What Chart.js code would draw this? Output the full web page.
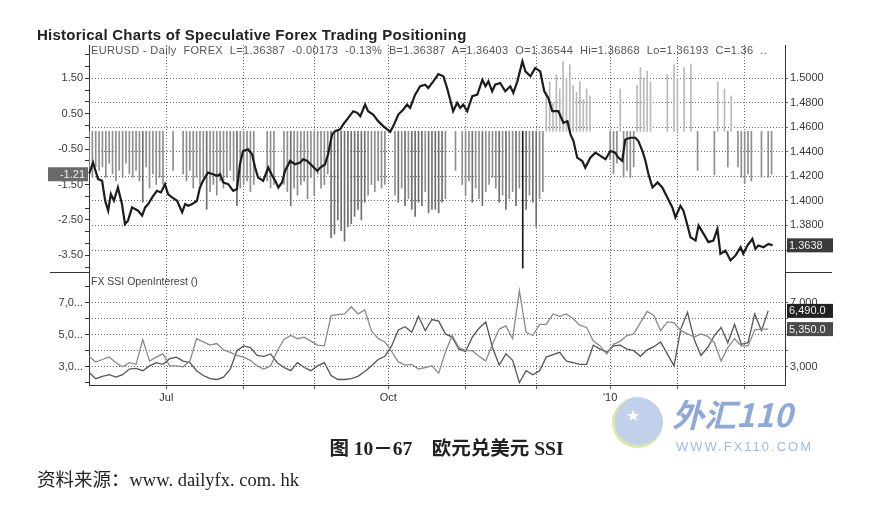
<!DOCTYPE html>
<html><head><meta charset="utf-8">
<script src="https://cdn.jsdelivr.net/npm/chart.js@4.4.1/dist/chart.umd.min.js"></script>
<style>
body{margin:0;background:#fff;width:873px;height:517px;overflow:hidden;position:relative;font-family:"Liberation Sans",Arial,sans-serif;}
canvas{position:absolute;left:0;top:0;}
.t{position:absolute;white-space:pre;line-height:1;}
.hl{position:absolute;height:1px;background:#333;}
</style></head><body>
<canvas id="c1" width="873" height="517"></canvas>
<canvas id="c2" width="873" height="517"></canvas>
<div class="t" style="left:37px;top:27px;font-weight:bold;font-size:15px;letter-spacing:0.25px;color:#222">Historical Charts of Speculative Forex Trading Positioning</div>
<div class="t" style="left:91px;top:45px;font-size:11px;letter-spacing:0.35px;color:#555">EURUSD - Daily  FOREX  L=1.36387  -0.00173  -0.13%  B=1.36387  A=1.36403  O=1.36544  Hi=1.36868  Lo=1.36193  C=1.36  ..</div>
<div class="t" style="left:91px;top:276px;font-size:10.5px;color:#444">FX SSI OpenInterest ()</div>
<div class="hl" style="left:50px;top:272px;width:39px"></div>
<div class="hl" style="left:785px;top:272px;width:47px"></div>
<div class="t" style="left:0;width:893px;text-align:center;top:439px;font-size:19.5px;font-weight:bold;color:#222;font-family:'Liberation Serif','Noto Sans CJK SC',serif">图 10－67　欧元兑美元 SSI</div>
<div class="t" style="left:37px;top:471px;font-size:18.5px;color:#222;font-family:'Liberation Serif','Noto Sans CJK SC',serif">资料来源：www. dailyfx. com. hk</div>
<div style="position:absolute;left:612px;top:397px;width:48px;height:48px;border-radius:50%;background:#b7c8e8;border-left:3px solid #d6e39a;border-bottom:3px solid #d6e39a;opacity:0.85"></div>
<div class="t" style="left:626px;top:408px;font-size:16px;color:#fff">★</div>
<div class="t" style="left:672px;top:397px;font-size:32px;font-weight:bold;font-style:italic;color:#8ea8d8;font-family:'Noto Sans CJK SC',sans-serif">外汇110</div>
<div class="t" style="left:676px;top:440px;font-size:13px;letter-spacing:2px;color:#a3b8e0">WWW.FX110.COM</div>
<script>
// ---- data ----
const monthStartDay = [23, 46, 67, 89, 112, 133, 155, 175, 195];
const monthLabels   = ['Jul', '', '', 'Oct', '', '', "'10", '', ''];

const priceDay = [0,1.2,2.7,3.9,4.8,5.7,6.5,7.4,8.6,9.8,10.7,11.6,12.8,13.7,14.6,15.8,16.7,17.6,18.8,20.2,21.4,22.6,23.5,24.7,26.2,27.7,28.6,29.5,30.7,32.1,33.0,33.9,35.4,36.9,38.1,39.0,39.9,41.4,42.9,44.0,44.9,45.8,47.3,48.5,49.4,50.3,51.8,53.3,54.5,55.4,56.3,57.4,58.3,59.8,61.3,62.8,63.7,64.9,66.4,67.9,68.8,70.2,71.1,72.3,73.2,74.7,75.6,77.1,78.6,79.8,80.7,82.1,83.0,84.5,86.0,87.5,88.7,89.6,90.5,92.0,93.5,94.6,95.5,97.0,98.5,100.0,100.9,102.4,103.9,105.4,106.5,107.4,108.3,109.5,110.4,111.3,112.5,114.0,115.5,117.0,117.9,118.8,119.9,120.8,122.3,123.8,125.3,126.2,127.4,128.9,129.8,131.3,132.7,134.2,135.4,136.6,137.8,139.6,141.1,142.3,143.2,144.1,145.2,146.7,147.6,149.1,150.6,152.1,153.6,155.1,156.5,157.4,158.6,159.5,161.0,162.5,163.4,164.6,165.5,166.4,167.6,169.1,170.5,172.0,173.5,174.4,175.9,176.8,178.0,178.9,180.4,181.3,182.8,184.2,185.7,186.9,187.8,189.3,190.8,192.3,193.8,194.6,195.8,197.3,198.2,199.1,200.6,202.1,203.3];
const priceVal = [1.4217,1.4312,1.4177,1.4163,1.4001,1.3920,1.4055,1.4001,1.4109,1.3974,1.3812,1.3839,1.3947,1.3934,1.3920,1.3880,1.3947,1.3974,1.4028,1.4082,1.4069,1.4136,1.4055,1.4028,1.4001,1.3907,1.3974,1.3960,1.3974,1.4001,1.4109,1.4163,1.4231,1.4217,1.4204,1.4217,1.4150,1.4136,1.4082,1.4096,1.4298,1.4406,1.4420,1.4379,1.4271,1.4190,1.4163,1.4271,1.4204,1.4163,1.4109,1.4150,1.4244,1.4325,1.4298,1.4312,1.4339,1.4325,1.4285,1.4244,1.4271,1.4298,1.4379,1.4541,1.4568,1.4582,1.4622,1.4676,1.4730,1.4717,1.4690,1.4784,1.4730,1.4703,1.4649,1.4609,1.4582,1.4563,1.4609,1.4703,1.4744,1.4784,1.4757,1.4865,1.4933,1.4946,1.4919,1.4973,1.5032,1.5014,1.4919,1.4825,1.4730,1.4798,1.4757,1.4784,1.4730,1.4852,1.4865,1.4987,1.4933,1.4973,1.4892,1.4946,1.4960,1.4892,1.4933,1.4879,1.4973,1.5135,1.5054,1.5014,1.5081,1.5054,1.4892,1.4838,1.4730,1.4730,1.4636,1.4649,1.4541,1.4487,1.4352,1.4325,1.4271,1.4352,1.4393,1.4366,1.4339,1.4406,1.4393,1.4352,1.4325,1.4500,1.4514,1.4514,1.4487,1.4406,1.4325,1.4217,1.4109,1.4150,1.4109,1.4028,1.3947,1.3866,1.3960,1.3920,1.3799,1.3704,1.3677,1.3799,1.3731,1.3664,1.3677,1.3772,1.3569,1.3596,1.3515,1.3556,1.3623,1.3569,1.3637,1.3690,1.3609,1.3637,1.3623,1.3650,1.3638];

// SSI ratio bars, one per trading day (null = no bar)
const ssiVals = [
-1.1,-1.3,-1.0,-1.1,-1.0,-1.3,-0.9,-1.2,-1.4,-1.1,
-1.3,-0.9,-1.2,-1.3,-1.1,-1.4,-2.0,-1.0,-1.6,-1.2,
-1.5,-1.3,-1.5,null,null,-1.1,null,null,-1.2,-1.4,
-1.1,-1.6,-1.3,-1.5,-1.3,-2.2,-1.7,-1.5,-1.8,-1.4,
-1.6,-1.3,-1.1,-1.4,-2.1,-1.6,-1.5,-1.4,-1.7,-1.5,
null,null,null,-1.4,-1.6,-1.5,null,null,-1.5,-1.7,
-2.1,-1.6,-1.8,-1.5,-1.4,-1.9,-1.3,-1.8,-1.2,-1.6,
-1.5,-1.2,-3.0,-2.9,-2.5,-2.8,-3.1,-2.7,-2.6,-2.4,
-2.2,-2.5,-2.0,-1.8,-1.5,-1.7,-1.4,-1.6,-1.5,null,
null,-1.8,-2.0,-1.6,-2.1,-1.9,-2.2,-2.4,-2.0,-2.1,
-1.7,-2.3,-2.2,-2.2,-2.3,-2.0,-1.9,null,null,-1.1,
null,-1.5,-1.8,-1.4,-2.0,-1.6,-1.9,-2.1,-1.7,-1.5,
-1.3,-1.6,-2.0,-1.8,-2.2,-1.9,-1.7,-2.1,-1.6,-3.86,
-2.2,-1.8,-2.0,-2.7,-1.9,-1.7,1.1,1.4,0.8,1.6,
1.2,1.97,1.5,1.88,1.3,1.1,1.4,0.9,1.2,1.0,
null,null,null,null,null,-0.8,-1.2,-0.9,1.2,-1.3,
-1.1,-1.3,-1.0,1.3,1.8,1.5,1.7,1.4,null,null,
null,null,1.6,null,1.88,1.5,null,1.8,null,1.9,
null,-1.1,null,null,null,null,-1.23,1.4,null,1.2,
-1.0,1.0,null,-1.0,-1.3,-1.46,-1.2,-1.4,null,null,
-1.3,null,-1.3,-1.21];

// FX SSI open interest, every second trading day
const oiDays = Array.from({length:102}, (_, i) => i * 2);
const oiLight = [3650,3300,3450,3600,3250,3000,3250,3150,4700,3350,
3600,3800,3050,3050,3000,3350,4750,4550,4350,4450,
4050,3900,3700,3600,3400,3050,2850,3050,4000,4700,
4950,4750,4850,4600,4350,4300,6200,6250,6300,6750,
6300,6550,5250,4750,4550,3950,3300,3100,3150,2850,
2950,3050,2600,3900,4950,4200,4000,4000,3650,3350,
4400,5350,5550,4750,7750,5150,4950,5650,5650,6300,
6150,6300,6000,5600,5450,4600,4300,3800,4400,4600,
4950,5050,5750,6450,6200,5250,5800,5750,5250,5050,
4850,5050,4900,4500,3350,4200,4750,4300,4300,5300,
5350,5350];
const oiDark = [2650,2250,2400,2500,2350,2500,2850,2900,2750,3050,
3250,3150,3500,3600,3350,3250,2750,2450,2250,2200,
2350,2850,4000,4300,4200,3700,3650,3800,3250,2950,
2750,3250,2950,2750,3050,3250,2450,2200,2200,2250,
2400,2700,3050,3450,3650,4300,5300,5500,5150,6150,
5250,5950,5850,5050,4850,4100,3950,4850,5400,5800,
4200,3100,3800,3400,2000,2750,2500,2750,3600,3750,
3900,3350,3250,3150,3150,4350,4100,3900,4300,4350,
4100,4000,3650,4050,4250,4550,3800,3050,5350,6400,
4700,3700,4200,4950,5450,4500,5650,4400,4500,6300,
5250,6490];

const ssiTicksMajor = [-3.5,-2.5,-1.5,-0.5,0.5,1.5];
const priceTicks = [1.36,1.38,1.40,1.42,1.44,1.46,1.48,1.50];
const priceLabelHidden = [1.36];
const oiLeftLabels = {3000:'3,0...', 5000:'5,0...', 7000:'7,0...'};
const oiRightLabels = {3000:'3,000', 7000:'7,000'};

// ---- helpers ----
const FONT = {family:'"Liberation Sans", Arial, sans-serif', size:11};
const fmtThousands = v => v.toFixed(1).replace(/\B(?=(\d{3})+(?!\d))/, ',');

const boxPlugin = {
  id: 'valueBoxes',
  afterDraw(chart, args, opts) {
    const ctx = chart.ctx;
    (opts.items || []).forEach(b => {
      const sc = chart.scales[b.axis];
      const y = sc.getPixelForValue(b.value);
      const h = 14;
      const x0 = b.side === 'left' ? sc.right - 41 : sc.left + 2;
      const w = b.side === 'left' ? 40 : 46;
      ctx.save();
      ctx.fillStyle = b.bg;
      ctx.fillRect(x0, y - h / 2, w, h);
      ctx.fillStyle = '#f0f0f0';
      ctx.font = '11px "Liberation Sans", Arial, sans-serif';
      ctx.textBaseline = 'middle';
      ctx.textAlign = b.side === 'left' ? 'right' : 'left';
      ctx.fillText(b.text, b.side === 'left' ? x0 + w - 3 : x0 + 2, y + 0.5);
      ctx.restore();
    });
  }
};

const xTicksFn = s => { s.ticks = monthStartDay.map(v => ({value: v})); };

const lastSsi = ssiVals[ssiVals.length - 1];
const lastPrice = priceVal[priceVal.length - 1];

// ---- top panel ----
new Chart(document.getElementById('c1'), {
  type: 'bar',
  data: {
    datasets: [
      {
        type: 'line',
        data: priceDay.map((d, i) => ({x: d, y: priceVal[i]})),
        yAxisID: 'yP', xAxisID: 'x',
        borderColor: '#1c1c1c', borderWidth: 2.2, pointRadius: 0, tension: 0, order: 0
      },
      {
        type: 'bar',
        data: ssiVals.map((v, i) => ({x: i, y: v})).filter(p => p.y !== null),
        yAxisID: 'yS', xAxisID: 'x',
        barThickness: 1, grouped: false, order: 1,
        backgroundColor: ctx => {
          const v = ctx.raw ? ctx.raw.y : 0;
          if (v > 0) return '#b9b9b9';
          if (v < -3.5) return '#1a1a1a';
          if (v <= -2.0) return '#6e6e6e';
          return '#8e8e8e';
        }
      }
    ]
  },
  options: {
    responsive: false, animation: false, devicePixelRatio: 1,
    layout: {padding: {left: 0, right: 28, top: 45, bottom: 245}},
    plugins: {
      legend: {display: false}, tooltip: {enabled: false},
      valueBoxes: {items: [
        {axis: 'yS', side: 'left', value: lastSsi, text: lastSsi.toFixed(2), bg: '#6a6a6a'},
        {axis: 'yP', side: 'right', value: lastPrice, text: lastPrice.toFixed(4), bg: '#3a3a3a'}
      ]}
    },
    scales: {
      x: {
        type: 'linear', min: 0, max: 207, offset: false,
        afterBuildTicks: xTicksFn,
        afterFit: s => { s.height = 0; },
        ticks: {display: false},
        grid: {color: '#666', lineWidth: 1, drawTicks: false, offset: false},
        border: {display: false, dash: [1, 2]}
      },
      yS: {
        type: 'linear', position: 'left', min: -3.97, max: 2.44,
        afterFit: s => { s.width = 89; },
        afterBuildTicks: s => {
          const t = [];
          for (let k = -1; k <= 17; k++) t.push({value: -3.5 + k / 3});
          s.ticks = t;
        },
        ticks: {
          font: FONT, color: '#3a3a3a', padding: 2, autoSkip: false,
          callback: v => ssiTicksMajor.some(m => Math.abs(m - v) < 1e-6) ? v.toFixed(2) : ''
        },
        grid: {drawOnChartArea: false, drawTicks: true, tickLength: 4, color: '#333'},
        border: {display: true, color: '#333', width: 1}
      },
      yP: {
        type: 'linear', position: 'right', min: 1.3421, max: 1.5269,
        afterFit: s => { s.width = 60; },
        afterBuildTicks: s => { s.ticks = priceTicks.map(v => ({value: v})); },
        ticks: {font: FONT, color: '#3a3a3a', padding: 2, autoSkip: false,
                callback: v => priceLabelHidden.some(h => Math.abs(h - v) < 1e-6) ? '' : v.toFixed(4)},
        grid: {color: '#666', lineWidth: 1, drawTicks: true, tickLength: 3},
        border: {display: true, color: '#333', width: 1, dash: [1, 2]}
      }
    }
  },
  plugins: [boxPlugin]
});

// ---- bottom panel ----
new Chart(document.getElementById('c2'), {
  type: 'line',
  data: {
    datasets: [
      {data: oiDays.map((d, i) => ({x: d, y: oiLight[i]})), yAxisID: 'yO', xAxisID: 'x',
       borderColor: '#8a8a8a', borderWidth: 1.3, pointRadius: 0, tension: 0},
      {data: oiDays.map((d, i) => ({x: d, y: oiDark[i]})), yAxisID: 'yO', xAxisID: 'x',
       borderColor: '#555', borderWidth: 1.3, pointRadius: 0, tension: 0}
    ]
  },
  options: {
    responsive: false, animation: false, devicePixelRatio: 1,
    layout: {padding: {left: 0, right: 28, top: 272, bottom: 112}},
    plugins: {
      legend: {display: false}, tooltip: {enabled: false},
      valueBoxes: {items: [
        {axis: 'yOR', side: 'right', value: oiDark[oiDark.length - 1], text: fmtThousands(oiDark[oiDark.length - 1]), bg: '#222'},
        {axis: 'yOR', side: 'right', value: oiLight[oiLight.length - 1], text: fmtThousands(oiLight[oiLight.length - 1]), bg: '#4a4a4a'}
      ]}
    },
    scales: {
      x: {
        type: 'linear', min: 0, max: 207, offset: false,
        afterBuildTicks: xTicksFn,
        afterFit: s => { s.height = 20; },
        ticks: {font: FONT, color: '#333', padding: 2, maxRotation: 0, autoSkip: false,
                callback: (v, i) => monthLabels[i]},
        grid: {color: '#666', lineWidth: 1, drawTicks: true, tickLength: 4, offset: false},
        border: {display: true, color: '#333', width: 1, dash: [1, 2]}
      },
      yO: {
        type: 'linear', position: 'left', min: 1856, max: 8920,
        afterFit: s => { s.width = 89; },
        afterBuildTicks: s => { s.ticks = [2000,3000,4000,5000,6000,7000,8000].map(v => ({value: v})); },
        ticks: {font: FONT, color: '#3a3a3a', padding: 2, autoSkip: false, callback: v => oiLeftLabels[v] || ''},
        grid: {drawOnChartArea: false, drawTicks: true, tickLength: 4, color: '#333'},
        border: {display: true, color: '#333', width: 1}
      },
      yOR: {
        type: 'linear', position: 'right', min: 1856, max: 8920,
        afterFit: s => { s.width = 60; },
        afterBuildTicks: s => { s.ticks = [3000,4000,5000,6000,7000].map(v => ({value: v})); },
        ticks: {font: FONT, color: '#3a3a3a', padding: 2, autoSkip: false, callback: v => oiRightLabels[v] || ''},
        grid: {color: '#666', lineWidth: 1, drawTicks: true, tickLength: 3},
        border: {display: true, color: '#333', width: 1, dash: [1, 2]}
      }
    }
  },
  plugins: [boxPlugin]
});
</script>
</body></html>
